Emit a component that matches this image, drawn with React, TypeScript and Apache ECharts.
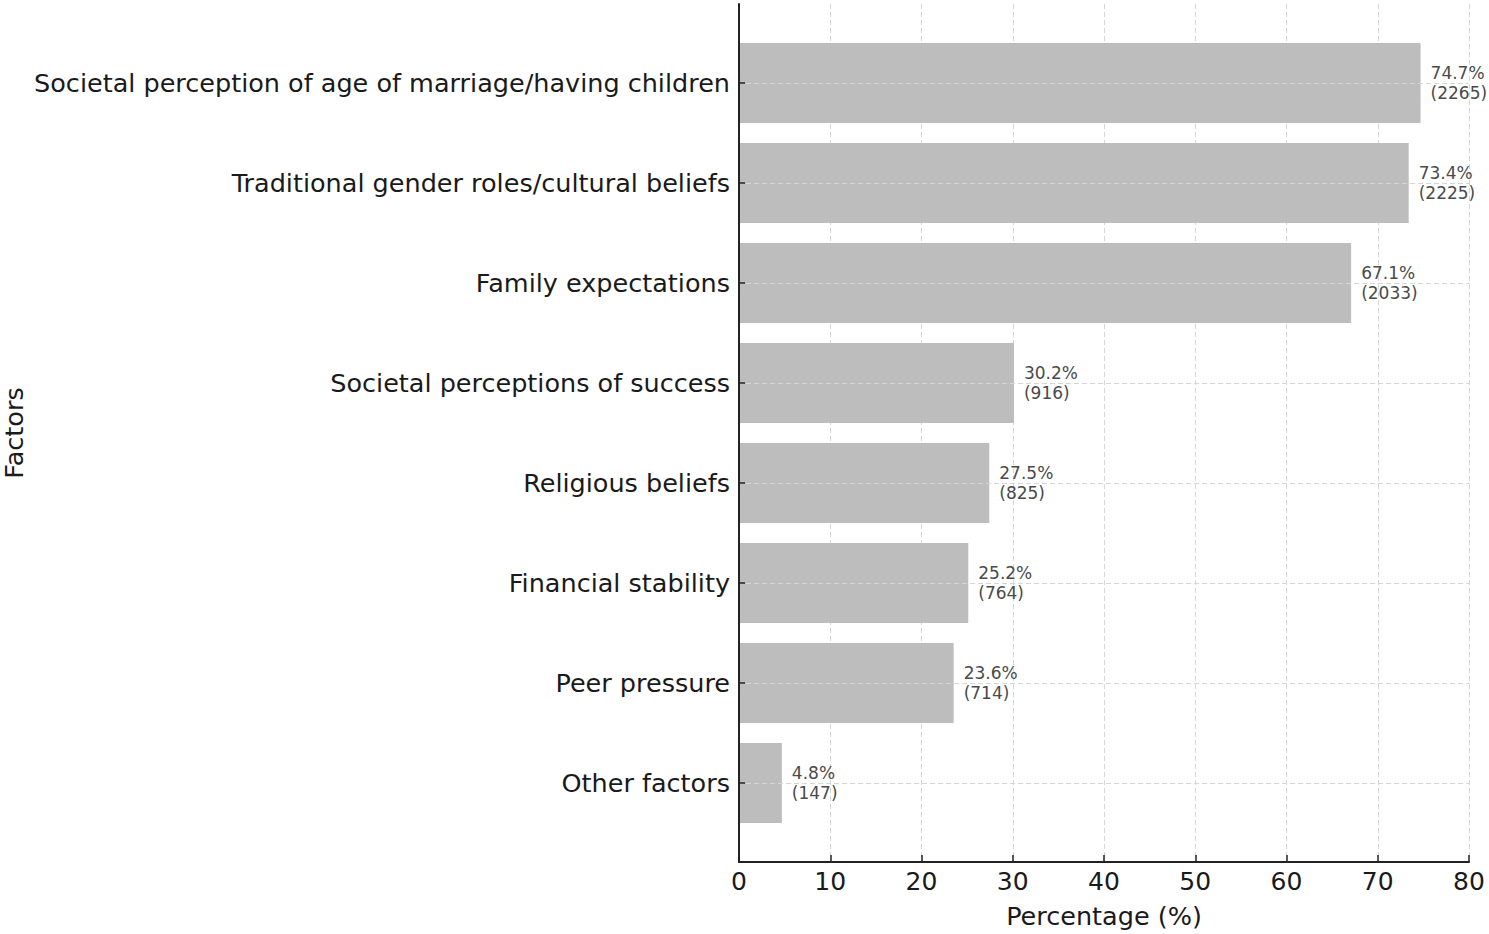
import React, { useEffect, useRef } from "react";
import * as echarts from "echarts";

// Share of respondents naming each factor, and the respondent counts behind them
const factors = [
  "Societal perception of age of marriage/having children",
  "Traditional gender roles/cultural beliefs",
  "Family expectations",
  "Societal perceptions of success",
  "Religious beliefs",
  "Financial stability",
  "Peer pressure",
  "Other factors",
];
const percentages = [74.7, 73.4, 67.1, 30.2, 27.5, 25.2, 23.6, 4.8];
const counts = [2265, 2225, 2033, 916, 825, 764, 714, 147];
const xTicks = [0, 10, 20, 30, 40, 50, 60, 70, 80];

const FONT = "DejaVu Sans";

export default function App() {
  const ref = useRef<HTMLDivElement>(null);

  useEffect(() => {
    if (!ref.current) return;
    const chart = echarts.init(ref.current, undefined, { renderer: "svg" });
    const gridLine = { show: true, lineStyle: { color: "#d6d6d6", type: [5, 3], width: 1 } };

    chart.setOption({
      animation: false,
      backgroundColor: "#ffffff",
      textStyle: { fontFamily: FONT },
      grid: [
        // bars: one category per 100px band, centres from the first to the last row
        { left: 738, right: 20, top: 83, bottom: 151, containLabel: false },
        // frame: full axes with the percentage scale
        { left: 738, right: 20, top: 4, bottom: 72, containLabel: false },
      ],
      xAxis: [
        { gridIndex: 0, type: "value", min: 0, max: 80, show: false },
        {
          gridIndex: 1,
          type: "value",
          min: xTicks[0],
          max: xTicks[xTicks.length - 1],
          interval: 10,
          name: "Percentage (%)",
          nameLocation: "middle",
          nameGap: 41,
          nameTextStyle: { fontFamily: FONT, fontSize: 25.5, color: "#1a1a1a" },
          axisLine: { show: true, lineStyle: { color: "#222", width: 2 } },
          axisTick: { show: true, inside: true, length: 7, lineStyle: { color: "#222", width: 1.5 } },
          axisLabel: { fontFamily: FONT, fontSize: 25, color: "#1a1a1a", margin: 7 },
          splitLine: gridLine,
        },
      ],
      yAxis: [
        {
          gridIndex: 0,
          type: "category",
          data: factors,
          inverse: true,
          boundaryGap: false,
          z: 5,
          axisLine: { show: false },
          axisTick: { show: true, inside: true, length: 7, lineStyle: { color: "#222", width: 1.5 } },
          axisLabel: { fontFamily: FONT, fontSize: 25.5, color: "#1a1a1a", margin: 8 },
          splitLine: gridLine,
        },
        {
          gridIndex: 1,
          type: "value",
          min: 0,
          max: 1,
          z: 5,
          name: "Factors",
          nameLocation: "middle",
          nameGap: 712,
          nameTextStyle: { fontFamily: FONT, fontSize: 25.5, color: "#1a1a1a" },
          axisLine: { show: true, lineStyle: { color: "#222", width: 2 } },
          axisTick: { show: false },
          axisLabel: { show: false },
          splitLine: { show: false },
        },
      ],
      series: [
        {
          type: "bar",
          xAxisIndex: 0,
          yAxisIndex: 0,
          data: percentages,
          barWidth: 80,
          clip: false,
          itemStyle: { color: "#bdbdbd" },
          label: {
            show: true,
            position: "right",
            distance: 10,
            fontFamily: FONT,
            fontSize: 17,
            lineHeight: 20,
            color: "#4a4a4a",
            align: "left",
            formatter: (p: any) => `${p.value}%\n(${counts[p.dataIndex]})`,
          },
        },
      ],
    });

    return () => chart.dispose();
  }, []);

  return (
    <div
      ref={ref}
      style={{ position: "fixed", left: 0, top: 0, width: 1489, height: 934 }}
    />
  );
}
